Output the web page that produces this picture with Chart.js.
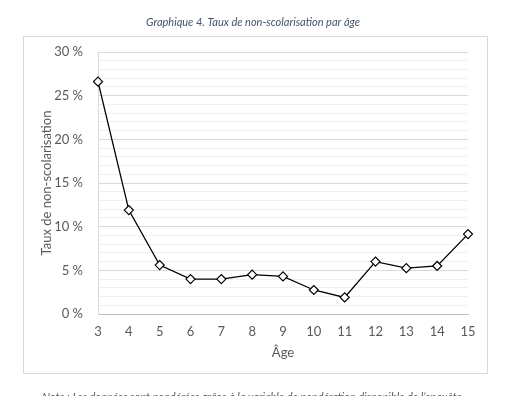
<!DOCTYPE html>
<html>
<head>
<meta charset="utf-8">
<script src="https://cdn.jsdelivr.net/npm/chart.js@4"></script>
<style>
  html, body { margin: 0; padding: 0; background: #fff; }
  #wrap { width: 530px; height: 396px; position: relative; }
</style>
</head>
<body>
<div id="wrap"><canvas id="chart"></canvas></div>
<script>
// values
var ages = ["3", "4", "5", "6", "7", "8", "9", "10", "11", "12", "13", "14", "15"];
var taux = [26.6, 11.9, 5.6, 4.0, 4.0, 4.5, 4.3, 2.75, 1.9, 6.0, 5.25, 5.5, 9.15];
var yTicks = [0, 5, 10, 15, 20, 25, 30];

var titleText = "Graphique 4. Taux de non-scolarisation par âge";
var noteText = "Note : Les données sont pondérées grâce à la variable de pondération disponible de l\u2019enquête";

// frame + caption texts around the chart
var decor = {
  id: "decor",
  beforeDraw: function(chart){
    var ctx = chart.ctx;
    ctx.save();
    ctx.fillStyle = "#fff";
    ctx.fillRect(0, 0, chart.width, chart.height);
    ctx.strokeStyle = "#d9d9d9";
    ctx.lineWidth = 1;
    ctx.strokeRect(23.5, 36.5, 464, 337);
    ctx.fillStyle = "#44546a";
    ctx.font = "italic 11px Lato";
    ctx.textAlign = "center";
    ctx.textBaseline = "middle";
    ctx.fillText(titleText, 253, 22);
    ctx.fillStyle = "#595959";
    ctx.textBaseline = "top";
    ctx.fillText(noteText, 252, 392);
    ctx.restore();
  }
};

var ctx = document.getElementById("chart").getContext("2d");
window.chart = new Chart(ctx, {
  type: "line",
  data: {
    labels: ages,
    datasets: [{
      label: "Taux",
      data: taux,
      borderColor: "#000",
      borderWidth: 1.3,
      tension: 0,
      pointStyle: "rectRot",
      pointRadius: 4.5,
      pointBackgroundColor: "#fff",
      pointBorderColor: "#000",
      pointBorderWidth: 1.2
    }]
  },
  options: {
    responsive: true,
    maintainAspectRatio: false,
    animation: false,
    layout: { padding: { left: 0, top: 52, right: 62, bottom: 0 } },
    plugins: { legend: { display: false }, tooltip: { enabled: false } },
    scales: {
      x: {
        afterFit: function(scale){ scale.height = 82; },
        grid: { display: false, drawTicks: false },
        border: { color: "#bfbfbf" },
        ticks: { color: "#595959", font: { family: "Lato", size: 13 }, padding: 10, maxRotation: 0, autoSkip: false },
        title: { display: true, text: "Âge", color: "#595959", font: { family: "Lato", size: 13 }, padding: { top: 0, bottom: 35 } }
      },
      y: {
        min: 0,
        max: 30,
        afterFit: function(scale){ scale.width = 98; },
        border: { color: "#d9d9d9" },
        grid: {
          drawTicks: false,
          color: function(c){ return yTicks.indexOf(c.tick.value) >= 0 ? "#d9d9d9" : "#f0f0f0"; }
        },
        ticks: {
          stepSize: 1,
          autoSkip: false,
          padding: 15,
          color: "#595959",
          font: { family: "Lato", size: 13 },
          callback: function(v){ return yTicks.indexOf(v) >= 0 ? v + " %" : ""; }
        },
        title: { display: true, text: "Taux de non-scolarisation", color: "#595959", font: { family: "Lato", size: 13 }, padding: { top: 39, bottom: 0 } }
      }
    }
  },
  plugins: [decor]
});
</script>
</body>
</html>
